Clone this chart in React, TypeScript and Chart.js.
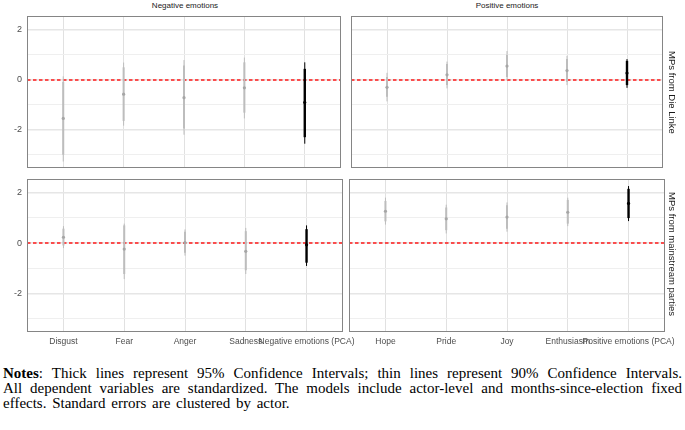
import React, { useEffect, useRef } from "react";
import { Chart, registerables } from "chart.js";

Chart.register(...registerables);

// ---------- data ----------
const negCats = ["Disgust", "Fear", "Anger", "Sadness", "Negative emotions (PCA)"];
const posCats = ["Hope", "Pride", "Joy", "Enthusiasm", "Positive emotions (PCA)"];
const yTickValues = [-3, -2, -1, 0, 1, 2];
const stripTop = ["Negative emotions", "Positive emotions"];
const stripRight = ["MPs from Die Linke", "MPs from mainstream parties"];

// MPs from Die Linke — negative emotions
const linkeNegEst = [-1.55, -0.58, -0.72, -0.33, -0.91];
const linkeNegThinLo = [-3.27, -1.84, -2.2, -1.55, -2.56];
const linkeNegThinHi = [0.13, 0.68, 0.78, 0.88, 0.69];
const linkeNegThickLo = [-3.0, -1.65, -1.95, -1.32, -2.3];
const linkeNegThickHi = [-0.09, 0.49, 0.56, 0.69, 0.43];

// MPs from Die Linke — positive emotions
const linkePosEst = [-0.31, 0.19, 0.54, 0.36, 0.26];
const linkePosThinLo = [-0.87, -0.35, -0.03, -0.22, -0.33];
const linkePosThinHi = [0.27, 0.72, 1.14, 0.95, 0.82];
const linkePosThickLo = [-0.68, -0.22, 0.1, -0.09, -0.22];
const linkePosThickHi = [0.1, 0.62, 0.98, 0.82, 0.75];

// MPs from mainstream parties — negative emotions
const mainNegEst = [0.23, -0.24, 0.02, -0.33, -0.07];
const mainNegThinLo = [-0.2, -1.43, -0.5, -1.23, -0.91];
const mainNegThinHi = [0.67, 0.77, 0.54, 0.6, 0.7];
const mainNegThickLo = [-0.1, -1.23, -0.39, -1.08, -0.78];
const mainNegThickHi = [0.57, 0.7, 0.45, 0.47, 0.55];

// MPs from mainstream parties — positive emotions
const mainPosEst = [1.26, 0.96, 1.03, 1.22, 1.57];
const mainPosThinLo = [0.73, 0.38, 0.45, 0.67, 0.87];
const mainPosThinHi = [1.8, 1.52, 1.61, 1.8, 2.26];
const mainPosThickLo = [0.86, 0.51, 0.57, 0.77, 0.99];
const mainPosThickHi = [1.67, 1.41, 1.5, 1.71, 2.15];

const Y_MIN = -3.53;
const Y_MAX = 2.54;
const X_MIN = -0.6;
const X_MAX = 4.6;
const REF_VALUE = 0;

const SANS = "'Liberation Sans', Arial, sans-serif";

type PanelProps = {
  cats: string[];
  est: number[];
  thinLo: number[];
  thinHi: number[];
  thickLo: number[];
  thickHi: number[];
  ax0: number;
  ay0: number;
  ax1: number;
  ay1: number;
  showY: boolean;
  showX: boolean;
};

const panelPlugin = {
  id: "panelDecor",
  beforeDatasetsDraw(chart: any) {
    const { ctx, chartArea, scales } = chart;
    const y = Math.round(scales.y.getPixelForValue(REF_VALUE));
    ctx.save();
    ctx.strokeStyle = "#ff1a1a";
    ctx.lineWidth = 1.6;
    ctx.setLineDash([3.5, 2.5]);
    ctx.beginPath();
    ctx.moveTo(chartArea.left, y);
    ctx.lineTo(chartArea.right, y);
    ctx.stroke();
    ctx.restore();
  },
  afterDraw(chart: any) {
    const { ctx, chartArea } = chart;
    ctx.save();
    ctx.strokeStyle = "#858585";
    ctx.lineWidth = 1;
    ctx.strokeRect(
      Math.round(chartArea.left) + 0.5,
      Math.round(chartArea.top) + 0.5,
      Math.round(chartArea.right - chartArea.left) - 1,
      Math.round(chartArea.bottom - chartArea.top) - 1
    );
    ctx.restore();
  },
};

function Panel(p: PanelProps) {
  const ref = useRef<HTMLCanvasElement>(null);
  const yW = p.showY ? 25 : 0;
  const xH = p.showX ? 22 : 0;
  const pl = p.showX ? 30 : 2;
  const pr = p.showX ? 30 : 2;
  const pt = 2;
  const pb = 2;
  const left = p.ax0 - yW - pl;
  const top = p.ay0 - pt;
  const width = pl + yW + (p.ax1 - p.ax0) + pr;
  const height = pt + (p.ay1 - p.ay0) + xH + pb;

  useEffect(() => {
    const idx = p.cats.map((_, i) => i);
    const last = p.cats.length - 1;
    const lineCol = (i: number) => (i === last ? "#000000" : "#bdbdbd");
    const ptCol = (i: number) => (i === last ? "#000000" : "#a6a6a6");

    const thin = idx.map((i) => ({
      data: [
        { x: i, y: p.thinLo[i] },
        { x: i, y: p.thinHi[i] },
      ],
      showLine: true,
      borderColor: lineCol(i),
      borderWidth: 1,
      pointRadius: 0,
      order: 5,
    }));
    const thick = idx.map((i) => ({
      data: [
        { x: i, y: p.thickLo[i] },
        { x: i, y: p.thickHi[i] },
      ],
      showLine: true,
      borderColor: lineCol(i),
      borderWidth: i === last ? 2.4 : 2,
      pointRadius: 0,
      order: 4,
    }));
    const pts = {
      data: idx.map((i) => ({ x: i, y: p.est[i] })),
      showLine: false,
      pointRadius: 1.6,
      pointBackgroundColor: idx.map(ptCol),
      pointBorderWidth: 0,
      order: 1,
    };

    const chart = new Chart(ref.current as HTMLCanvasElement, {
      type: "scatter",
      data: { datasets: [...thin, ...thick, pts] as any },
      options: {
        responsive: false,
        maintainAspectRatio: false,
        animation: false,
        events: [],
        layout: { padding: { left: pl, right: pr, top: pt, bottom: pb } },
        plugins: { legend: { display: false }, tooltip: { enabled: false } },
        scales: {
          x: {
            type: "linear",
            min: X_MIN,
            max: X_MAX,
            offset: false,
            afterBuildTicks: (s: any) => {
              s.ticks = idx.map((v) => ({ value: v }));
            },
            afterFit: (s: any) => {
              s.height = xH;
              s.paddingLeft = 0;
              s.paddingRight = 0;
            },
            grid: { color: "#e1e1e1", lineWidth: 1, drawTicks: false },
            border: { display: false },
            ticks: {
              display: p.showX,
              autoSkip: false,
              maxRotation: 0,
              minRotation: 0,
              padding: 5,
              color: "#4d4d4d",
              font: { family: SANS, size: 8.5 },
              callback: (v: any) => p.cats[v as number] ?? "",
            },
          },
          y: {
            type: "linear",
            min: Y_MIN,
            max: Y_MAX,
            afterBuildTicks: (s: any) => {
              s.ticks = yTickValues.map((v) => ({ value: v }));
            },
            afterFit: (s: any) => {
              s.width = yW;
              s.paddingTop = 0;
              s.paddingBottom = 0;
            },
            grid: {
              drawTicks: false,
              color: (c: any) => (c.tick && c.tick.value % 2 === 0 ? "#e6e6e6" : "#efefef"),
              lineWidth: (c: any) => (c.tick && c.tick.value % 2 === 0 ? 1.6 : 1),
            },
            border: { display: false },
            ticks: {
              display: p.showY,
              padding: 5,
              color: "#4d4d4d",
              font: { family: SANS, size: 9 },
              callback: (v: any) => ((v as number) % 2 === 0 ? String(v) : ""),
            },
          },
        },
      } as any,
      plugins: [panelPlugin],
    });
    return () => chart.destroy();
  }, []);

  return (
    <canvas
      ref={ref}
      width={width}
      height={height}
      style={{ position: "absolute", left, top, width, height }}
    />
  );
}

export default function App() {
  const stripStyle: React.CSSProperties = {
    position: "absolute",
    fontFamily: SANS,
    fontSize: 8,
    color: "#1a1a1a",
    textAlign: "center",
    lineHeight: "12px",
  };
  const vStyle: React.CSSProperties = {
    position: "absolute",
    fontFamily: SANS,
    fontSize: 9.5,
    color: "#1a1a1a",
    writingMode: "vertical-rl",
    textAlign: "center",
    lineHeight: "12px",
    width: 12,
  };
  const noteLine: React.CSSProperties = {
    whiteSpace: "nowrap",
    textAlign: "justify",
    textAlignLast: "justify",
    height: 15,
  };
  return (
    <div
      style={{
        position: "absolute",
        left: 0,
        top: 0,
        width: 685,
        height: 430,
        background: "#ffffff",
        overflow: "hidden",
      }}
    >
      <Panel cats={negCats} est={linkeNegEst} thinLo={linkeNegThinLo} thinHi={linkeNegThinHi}
        thickLo={linkeNegThickLo} thickHi={linkeNegThickHi}
        ax0={27} ay0={14} ax1={343} ay1={170} showY={true} showX={false} />
      <Panel cats={posCats} est={linkePosEst} thinLo={linkePosThinLo} thinHi={linkePosThinHi}
        thickLo={linkePosThickLo} thickHi={linkePosThickHi}
        ax0={349} ay0={14} ax1={665} ay1={170} showY={false} showX={false} />
      <Panel cats={negCats} est={mainNegEst} thinLo={mainNegThinLo} thinHi={mainNegThinHi}
        thickLo={mainNegThickLo} thickHi={mainNegThickHi}
        ax0={27} ay0={177} ax1={343} ay1={332} showY={true} showX={true} />
      <Panel cats={posCats} est={mainPosEst} thinLo={mainPosThinLo} thinHi={mainPosThinHi}
        thickLo={mainPosThickLo} thickHi={mainPosThickHi}
        ax0={349} ay0={177} ax1={665} ay1={332} showY={false} showX={true} />

      <div style={{ ...stripStyle, left: 27, top: 0, width: 316 }}>{stripTop[0]}</div>
      <div style={{ ...stripStyle, left: 349, top: 0, width: 316 }}>{stripTop[1]}</div>
      <div style={{ ...vStyle, left: 666, top: 14, height: 156 }}>{stripRight[0]}</div>
      <div style={{ ...vStyle, left: 666, top: 177, height: 155 }}>{stripRight[1]}</div>

      <div
        style={{
          position: "absolute",
          left: 3,
          top: 366,
          width: 679,
          fontFamily: "'Liberation Serif', 'Times New Roman', serif",
          fontSize: 15,
          lineHeight: "15px",
          color: "#000",
        }}
      >
        <div style={noteLine}>
          <b>Notes</b>: Thick lines represent 95% Confidence Intervals; thin lines represent 90% Confidence Intervals.
        </div>
        <div style={noteLine}>
          All dependent variables are standardized. The models include actor-level and months-since-election fixed
        </div>
        <div style={{ whiteSpace: "nowrap", height: 15, wordSpacing: 2 }}>
          effects. Standard errors are clustered by actor.
        </div>
      </div>
    </div>
  );
}
